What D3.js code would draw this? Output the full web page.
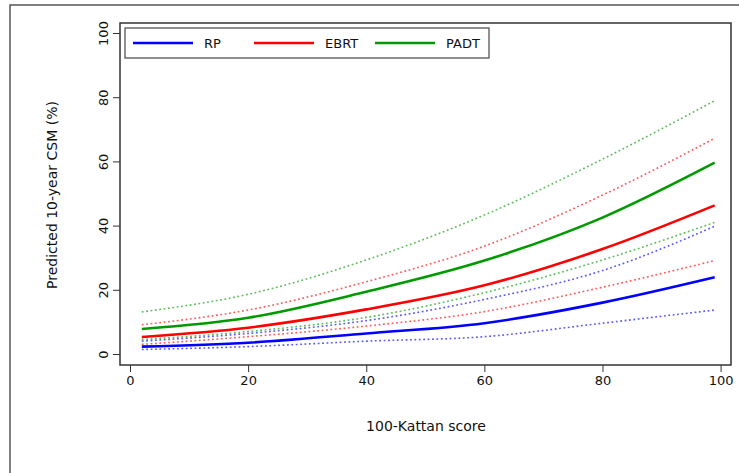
<!DOCTYPE html>
<html>
<head>
<meta charset="utf-8">
<script src="https://cdn.jsdelivr.net/npm/d3@7"></script>
<style>
  body { margin: 0; background: #fff; }
  text { font-family: "DejaVu Sans", sans-serif; fill: #111; }
</style>
</head>
<body>
<div id="chart"></div>
<script>
// data
var scores = [2, 20, 40, 60, 80, 99];
var rpMid   = [2.3, 3.5, 6.4, 9.6, 16.0, 23.9];
var rpLow   = [1.4, 2.3, 4.0, 5.4, 9.6, 13.7];
var rpHigh  = [4.0, 6.4, 10.4, 17.0, 26.0, 39.8];
var ebrtMid  = [5.3, 8.2, 13.9, 21.4, 32.7, 46.3];
var ebrtLow  = [3.0, 5.4, 8.7, 13.2, 20.8, 29.1];
var ebrtHigh = [9.1, 13.7, 22.5, 33.6, 49.5, 67.2];
var padtMid  = [7.8, 11.3, 19.4, 29.1, 42.5, 59.6];
var padtLow  = [4.5, 7.0, 11.4, 19.1, 29.3, 41.0];
var padtHigh = [13.1, 18.6, 29.3, 43.3, 60.7, 78.9];
var xTicks = [0, 20, 40, 60, 80, 100];
var yTicks = [0, 20, 40, 60, 80, 100];
var groups = ["RP", "EBRT", "PADT"];
var colours = ["#0000ff", "#ff0000", "#009a00"];

var W = 739, H = 473;
var box = {left: 120, top: 23, right: 731, bottom: 365};

var svg = d3.select("#chart").append("svg")
    .attr("width", W)
    .attr("height", H);

// outer frame (runs off the page on the right and bottom)
svg.append("rect")
    .attr("x", 10).attr("y", 5)
    .attr("width", 800).attr("height", 600)
    .attr("fill", "none").attr("stroke", "#555").attr("stroke-width", 1.5);

var x = d3.scaleLinear().domain([0, 100]).range([130, 720.6]);
var y = d3.scaleLinear().domain([0, 100]).range([354, 33]);

// plot box
svg.append("rect")
    .attr("x", box.left).attr("y", box.top)
    .attr("width", box.right - box.left).attr("height", box.bottom - box.top)
    .attr("fill", "none").attr("stroke", "#333").attr("stroke-width", 1.5);

// axes
var gx = svg.append("g")
    .attr("transform", "translate(0," + box.bottom + ")")
    .call(d3.axisBottom(x).tickValues(xTicks).tickSize(7).tickPadding(4));
gx.select(".domain").remove();
gx.selectAll("line").attr("stroke", "#333");
gx.selectAll("text").style("font-size", "13px");

var gy = svg.append("g")
    .attr("transform", "translate(" + box.left + ",0)")
    .call(d3.axisLeft(y).tickValues(yTicks).tickSize(7));
gy.select(".domain").remove();
gy.selectAll("line").attr("stroke", "#333");
gy.selectAll("text")
    .style("font-size", "13px")
    .attr("x", null).attr("dy", null)
    .attr("text-anchor", "middle")
    .attr("transform", "translate(-12,0) rotate(-90)");

// axis titles
svg.append("text")
    .attr("x", 426).attr("y", 431)
    .attr("text-anchor", "middle")
    .style("font-size", "14px")
    .text("100-Kattan score");

svg.append("text")
    .attr("transform", "translate(57,195) rotate(-90)")
    .attr("text-anchor", "middle")
    .style("font-size", "14px")
    .text("Predicted 10-year CSM (%)");

// curves
var line = d3.line()
    .x(function(d) { return x(d[0]); })
    .y(function(d) { return y(d[1]); })
    .curve(d3.curveMonotoneX);

var series = [
  {mid: rpMid, low: rpLow, high: rpHigh},
  {mid: ebrtMid, low: ebrtLow, high: ebrtHigh},
  {mid: padtMid, low: padtLow, high: padtHigh}
];

function pts(vals) { return scores.map(function(s, i) { return [s, vals[i]]; }); }

series.forEach(function(s, i) {
  [s.low, s.high].forEach(function(v) {
    svg.append("path")
        .attr("d", line(pts(v)))
        .attr("fill", "none")
        .attr("stroke", colours[i])
        .attr("stroke-opacity", 0.65)
        .attr("stroke-width", 1.6)
        .attr("stroke-dasharray", "1.8,2.6");
  });
});
series.forEach(function(s, i) {
  svg.append("path")
      .attr("d", line(pts(s.mid)))
      .attr("fill", "none")
      .attr("stroke", colours[i])
      .attr("stroke-width", 2.6);
});

// legend
svg.append("rect")
    .attr("x", 125).attr("y", 28)
    .attr("width", 364).attr("height", 30)
    .attr("fill", "#fff").attr("stroke", "#555").attr("stroke-width", 1.3);

var leg = svg.append("g").selectAll("g")
    .data(groups)
    .enter()
    .append("g")
      .attr("transform", function(d, i) { return "translate(" + (133 + i * 121) + ",43)"; });
leg.append("line")
    .attr("x1", 0).attr("x2", 60)
    .attr("stroke", function(d, i) { return colours[i]; })
    .attr("stroke-width", 2.6);
leg.append("text")
    .attr("x", 71).attr("dy", "0.35em")
    .style("font-size", "13px")
    .text(function(d) { return d; });
</script>
</body>
</html>
